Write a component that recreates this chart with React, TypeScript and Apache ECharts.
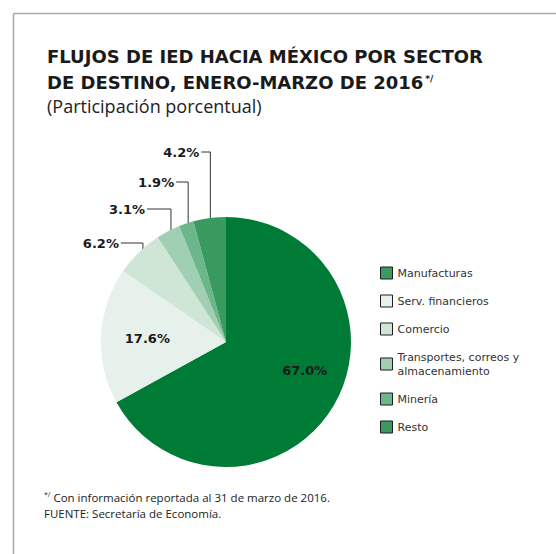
import React, { useEffect, useRef } from 'react';
import * as echarts from 'echarts';

// ---- data ----
const categories = [
  'Manufacturas',
  'Serv. financieros',
  'Comercio',
  'Transportes, correos y almacenamiento',
  'Minería',
  'Resto',
];
const legendLabels = [
  'Manufacturas',
  'Serv. financieros',
  'Comercio',
  'Transportes, correos y\nalmacenamiento',
  'Minería',
  'Resto',
];
const shares = [67.0, 17.6, 6.2, 3.1, 1.9, 4.2];
const titleLines = [
  'FLUJOS DE IED HACIA MÉXICO POR SECTOR',
  'DE DESTINO, ENERO-MARZO DE 2016',
];
const titleMark = '*/';
const subtitle = '(Participación porcentual)';
const footnoteMark = '*/';
const footnoteLines = [
  'Con información reportada al 31 de marzo de 2016.',
  'FUENTE: Secretaría de Economía.',
];

// ---- styles ----
const sliceColors = ['#007b36', '#e6f1eb', '#cfe6d7', '#a0cfb3', '#6bb68b', '#399a60'];
const legendIconColors = ['#3a9a60', '#e6f1eb', '#cfe6d7', '#a0cfb3', '#6bb68b', '#399a60'];

const CX = 226;
const CY = 342;
const R = 125;
const LABEL_LAYOUT: any[] = [
  { kind: 'inside', dist: 0.67, dAng: -10.6 },
  { kind: 'inside', dist: 0.63, dAng: 0 },
  { kind: 'outside', labelY: 243, hLen: 22 },
  { kind: 'outside', labelY: 209, hLen: 24 },
  { kind: 'outside', labelY: 182, hLen: 12 },
  { kind: 'outside', labelY: 152, hLen: 9 },
];

const BOLD_FONT = 'DejaVu Sans';
const TEXT_FONT = 'Open Sans';
const LEGEND_FONT = 'DejaVu Sans';

export default function App() {
  const ref = useRef<HTMLDivElement>(null);
  useEffect(() => {
    if (!ref.current) return;
    const chart = echarts.init(ref.current, null, { renderer: 'svg' });
    const total = shares.reduce((a, b) => a + b, 0);

    const option: any = {
      animation: false,
      backgroundColor: '#ffffff',
      title: {
        left: 47,
        top: 43,
        padding: 0,
        itemGap: 0,
        text: titleLines.join('\n') + '{sup|' + titleMark + '}',
        textStyle: {
          fontFamily: BOLD_FONT,
          fontWeight: 'bold',
          fontSize: 18,
          lineHeight: 26,
          color: '#1a1a1a',
          rich: {
            sup: {
              fontFamily: BOLD_FONT,
              fontWeight: 'bold',
              fontSize: 9,
              lineHeight: 12,
              verticalAlign: 'top',
              padding: [5, 0, 0, 2],
              color: '#1a1a1a',
            },
          },
        },
        subtext: subtitle,
        subtextStyle: {
          fontFamily: TEXT_FONT,
          fontSize: 18,
          lineHeight: 22,
          color: '#222222',
        },
      },
      legend: {
        orient: 'vertical',
        left: 380,
        top: 266,
        padding: 0,
        itemWidth: 12,
        itemHeight: 12,
        itemGap: 14,
        icon: 'rect',
        selectedMode: false,
        formatter: (name: string) => legendLabels[categories.indexOf(name)],
        textStyle: {
          fontFamily: LEGEND_FONT,
          fontSize: 11,
          lineHeight: 14,
          color: '#333333',
        },
        data: categories.map((name, i) => ({
          name,
          itemStyle: { color: legendIconColors[i], borderColor: '#1e1e1e', borderWidth: 1 },
        })),
      },
      graphic: [
        {
          type: 'line',
          shape: { x1: 13.5, y1: 554, x2: 13.5, y2: 13.5 },
          style: { stroke: '#a8a8a8', lineWidth: 1.5 },
        },
        {
          type: 'line',
          shape: { x1: 13.5, y1: 13.5, x2: 556, y2: 13.5 },
          style: { stroke: '#a8a8a8', lineWidth: 1.5 },
        },
        {
          type: 'text',
          x: 44,
          y: 497,
          style: {
            text: '{sup|' + footnoteMark + '} ' + footnoteLines[0],
            fontFamily: TEXT_FONT,
            fontSize: 11.5,
            fill: '#222222',
            verticalAlign: 'middle',
            rich: {
              sup: { fontFamily: TEXT_FONT, fontSize: 7, verticalAlign: 'top', fill: '#222222' },
            },
          },
        },
        {
          type: 'text',
          x: 44,
          y: 513,
          style: {
            text: footnoteLines[1],
            fontFamily: TEXT_FONT,
            fontSize: 11.5,
            fill: '#222222',
            verticalAlign: 'middle',
          },
        },
      ],
      series: [
        {
          type: 'pie',
          center: [CX, CY],
          radius: [0, R],
          startAngle: 90,
          clockwise: true,
          silent: true,
          avoidLabelOverlap: false,
          itemStyle: { borderWidth: 0 },
          label: {
            show: true,
            position: 'outside',
            formatter: (p: any) => Number(p.value).toFixed(1) + '%',
            fontFamily: BOLD_FONT,
            fontWeight: 'bold',
            fontSize: 13,
            color: '#1a1a1a',
          },
          labelLine: {
            show: true,
            length: 10,
            length2: 10,
            smooth: false,
            lineStyle: { color: '#333333', width: 1 },
          },
          labelLayout: (p: any) => {
            const i = p.dataIndex;
            let cum = 0;
            for (let k = 0; k < i; k++) cum += shares[k];
            const mid = ((cum + shares[i] / 2) / total) * 360;
            const L = LABEL_LAYOUT[i];
            if (L.kind === 'inside') {
              const a = ((mid + L.dAng) * Math.PI) / 180;
              return {
                x: CX + L.dist * R * Math.sin(a),
                y: CY - L.dist * R * Math.cos(a),
                align: 'center',
                verticalAlign: 'middle',
              };
            }
            const a = (mid * Math.PI) / 180;
            const ax = CX + (R - 6) * Math.sin(a);
            const ay = CY - (R - 6) * Math.cos(a);
            return {
              x: ax - L.hLen - 2,
              y: L.labelY,
              align: 'right',
              verticalAlign: 'middle',
              labelLinePoints: [
                [ax, ay],
                [ax, L.labelY],
                [ax - L.hLen, L.labelY],
              ],
            };
          },
          data: categories.map((name, i) => ({
            name,
            value: shares[i],
            itemStyle: { color: sliceColors[i] },
            label: i < 2 ? { position: 'inside' } : undefined,
            labelLine: i < 2 ? { show: false } : undefined,
          })),
        },
      ],
    };
    chart.setOption(option);
    return () => chart.dispose();
  }, []);
  return (
    <div
      ref={ref}
      style={{ position: 'absolute', left: 0, top: 0, width: 556, height: 554, background: '#fff' }}
    />
  );
}
